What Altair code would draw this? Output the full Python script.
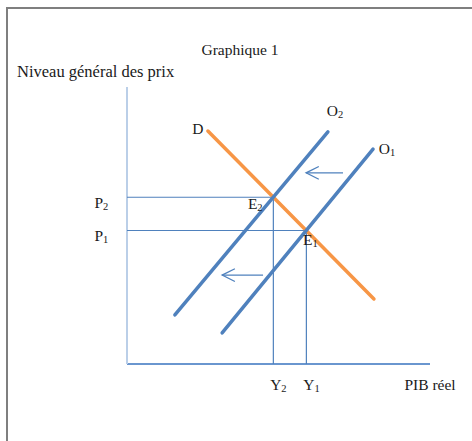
import altair as alt
import pandas as pd

# Aggregate demand (D) and supply curves before (O1) and after (O2) the shift
curve_letters = ["D", "O", "O"]
curve_subs = ["", "1", "2"]
curve_x0 = [26.7, 31.4, 15.8]
curve_y0 = [84.1, 11.2, 17.7]
curve_x1 = [81.5, 81.2, 66.3]
curve_y1 = [23.5, 77.6, 83.8]
curve_colors = ["#F79646", "#4F81BD", "#4F81BD"]

# Equilibria: E1 (initial) and E2 (after the supply shift)
eq_subs = ["1", "2"]
eq_output = [59.2, 48.3]
eq_price = [48.2, 60.2]

# Leftward shift arrows (tail -> head)
arrow_x_tail = [71.3, 44.9]
arrow_x_head = [59.1, 31.4]
arrow_y = [69.0, 32.1]

FONT = "Liberation Serif"
BLUE = "#4F81BD"
TXT = "#1a1a1a"
FS = 15.5
SUB_FS = 10.5

curves = pd.DataFrame({"letter": curve_letters, "sub": curve_subs,
                       "x0": curve_x0, "y0": curve_y0,
                       "x1": curve_x1, "y1": curve_y1, "color": curve_colors})
eq = pd.DataFrame({"sub": eq_subs, "q": eq_output, "p": eq_price, "zero": [0, 0]})
arrows = pd.DataFrame({"xt": arrow_x_tail, "xh": arrow_x_head, "y": arrow_y})

xs = alt.Scale(domain=[0, 100], nice=False, zero=False)
ys = alt.Scale(domain=[0, 100], nice=False, zero=False)

axes_df = pd.DataFrame({"x0": [0, 0], "y0": [0, 0], "x1": [100, 0], "y1": [0, 100],
                        "c": ["#6A96CF", "#BBCFE8"]})
axes = alt.Chart(axes_df).mark_rule(strokeWidth=2).encode(
    x=alt.X("x0:Q", scale=xs, axis=None), y=alt.Y("y0:Q", scale=ys, axis=None),
    x2="x1:Q", y2="y1:Q", color=alt.Color("c:N", scale=None))

guides_h = alt.Chart(eq).mark_rule(color=BLUE, strokeWidth=1.2).encode(
    x=alt.X("zero:Q", scale=xs), x2="q:Q", y=alt.Y("p:Q", scale=ys))
guides_v = alt.Chart(eq).mark_rule(color=BLUE, strokeWidth=1.2).encode(
    x=alt.X("q:Q", scale=xs), y=alt.Y("zero:Q", scale=ys), y2="p:Q")

lines = alt.Chart(curves).mark_rule(strokeWidth=3.5, strokeCap="round").encode(
    x=alt.X("x0:Q", scale=xs), y=alt.Y("y0:Q", scale=ys), x2="x1:Q", y2="y1:Q",
    color=alt.Color("color:N", scale=None))

arrow_shafts = alt.Chart(arrows).mark_rule(color=BLUE, strokeWidth=1.3).encode(
    x=alt.X("xt:Q", scale=xs), x2="xh:Q", y=alt.Y("y:Q", scale=ys))
arrow_heads = alt.Chart(arrows).mark_point(
    shape="M 1 -0.5 L 0 0 L 1 0.5", size=650, filled=False,
    color=BLUE, strokeWidth=1.3, opacity=1).encode(
    x=alt.X("xh:Q", scale=xs), y=alt.Y("y:Q", scale=ys))


def sub_label(df, xf, yf, letter, sub, dx, dy):
    """Letter ending at (dx, dy) from the anchor, with its index set lower and smaller."""
    enc = dict(x=alt.X(xf, scale=xs), y=alt.Y(yf, scale=ys))
    main = alt.Chart(df).mark_text(align="right", baseline="middle", dx=dx, dy=dy,
                                   font=FONT, fontSize=FS, color=TXT).encode(text=letter, **enc)
    low = alt.Chart(df).mark_text(align="left", baseline="middle", dx=dx, dy=dy + 4,
                                  font=FONT, fontSize=SUB_FS, color=TXT).encode(text=sub, **enc)
    return [main, low]


labels = []
# D at the upper end of the demand curve, O1 / O2 at the upper ends of the supply curves
labels.append(alt.Chart(curves.iloc[[0]]).mark_text(
    dx=-10, dy=-2, baseline="middle", font=FONT, fontSize=FS, color=TXT).encode(
    x=alt.X("x0:Q", scale=xs), y=alt.Y("y0:Q", scale=ys), text="letter:N"))
labels += sub_label(curves.iloc[[1]], "x1:Q", "y1:Q", "letter:N", "sub:N", 17, 0)
labels += sub_label(curves.iloc[[2]], "x1:Q", "y1:Q", "letter:N", "sub:N", 10, -21)
# Equilibrium points
labels += sub_label(eq.iloc[[0]].assign(l="E"), "q:Q", "p:Q", "l:N", "sub:N", 6, 10)
labels += sub_label(eq.iloc[[1]].assign(l="E"), "q:Q", "p:Q", "l:N", "sub:N", -16, 7)
# Prices on the vertical axis, outputs on the horizontal axis
labels += sub_label(eq.assign(l="P"), "zero:Q", "p:Q", "l:N", "sub:N", -24, 6)
labels += sub_label(eq.assign(l="Y"), "q:Q", "zero:Q", "l:N", "sub:N", 8, 21)

axis_titles = alt.Chart(pd.DataFrame({"t": ["PIB réel"], "x": [100], "y": [0]})).mark_text(
    dy=21, baseline="middle", font=FONT, fontSize=FS, color=TXT).encode(
    x=alt.X("x:Q", scale=xs), y=alt.Y("y:Q", scale=ys), text="t:N")
y_title = alt.Chart(pd.DataFrame({"t": ["Niveau général des prix"]})).mark_text(
    align="left", baseline="middle", font=FONT, fontSize=16.5, color=TXT).encode(
    x=alt.value(-110), y=alt.value(-15), text="t:N")
title = alt.Chart(pd.DataFrame({"t": ["Graphique 1"]})).mark_text(
    baseline="middle", font=FONT, fontSize=FS, color=TXT).encode(
    x=alt.value(113), y=alt.value(-37), text="t:N")

# Page frame (top and left edges)
frame = alt.Chart(pd.DataFrame({"a": [0]})).mark_rule(color="#7F7F7F", strokeWidth=2).encode(
    x=alt.value(-120), y=alt.value(-79), x2=alt.value(345), y2=alt.value(-79))
frame_l = alt.Chart(pd.DataFrame({"a": [0]})).mark_rule(color="#7F7F7F", strokeWidth=2).encode(
    x=alt.value(-120), y=alt.value(-80), x2=alt.value(-120), y2=alt.value(354))

chart = alt.layer(
    frame, frame_l, axes, guides_h, guides_v, lines, arrow_shafts, arrow_heads,
    *labels, axis_titles, y_title, title,
).properties(
    width=303, height=277,
    autosize=alt.AutoSizeParams(type="none"),
    padding={"left": 127, "top": 87, "right": 42, "bottom": 77},
    background="white",
).configure_view(stroke=None)

chart.save("out.html", embed_options={"renderer": "svg", "actions": False})
